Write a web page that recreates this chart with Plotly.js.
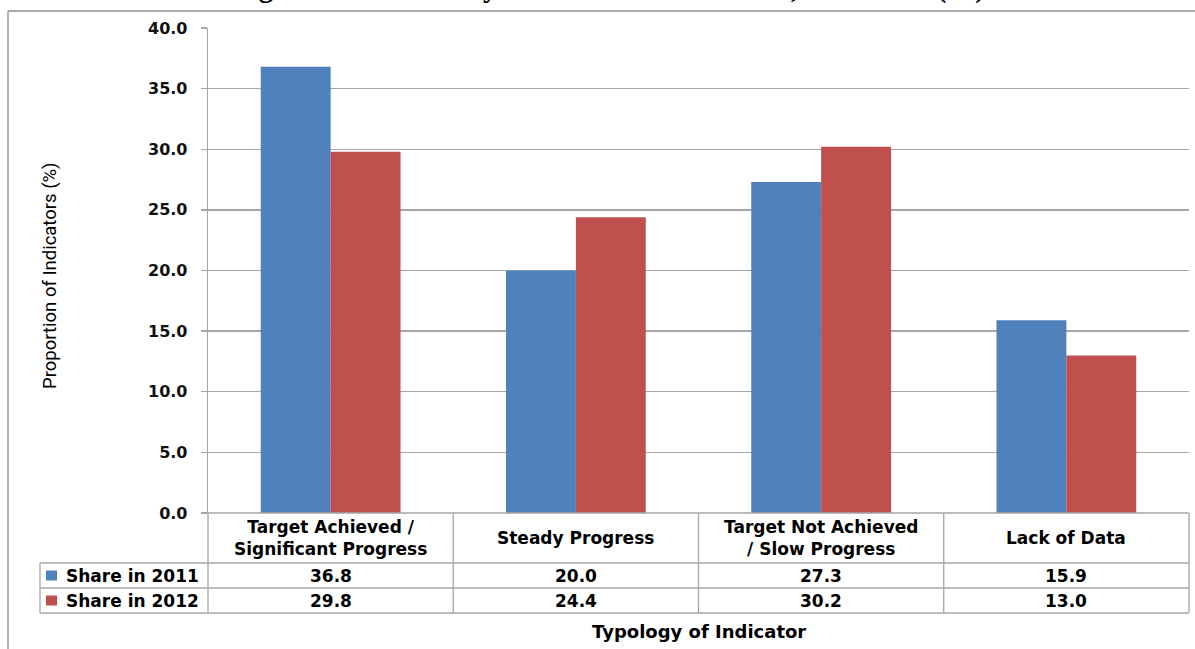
<!DOCTYPE html>
<html>
<head>
<meta charset="utf-8">
<script src="https://cdn.plot.ly/plotly-3.0.1.min.js"></script>
<style>
  html, body { margin: 0; padding: 0; background: #ffffff; }
  #chart { width: 1195px; height: 649px; }
</style>
</head>
<body>
<div id="chart"></div>
<script>
// Indicator typology and the share of indicators in each group (%)
const categories = [
  'Target Achieved /<br>Significant Progress',
  'Steady Progress',
  'Target Not Achieved<br>/ Slow Progress',
  'Lack of Data'
];
const seriesNames = ['Share in 2011', 'Share in 2012'];
const share2011 = [36.8, 20.0, 27.3, 15.9];
const share2012 = [29.8, 24.4, 30.2, 13.0];
const seriesColors = ['#4F81BD', '#C0504D'];

const chartTitle = 'Figure 4.1: Summary of Indicator Movement, 2011-2012 (%)';
const yTitle = 'Proportion of Indicators (%)';
const xTitle = 'Typology of Indicator';

// Plot area geometry in pixels (used to convert table rows to paper units)
const W = 1195, H = 649;
const M = { l: 208, r: 6, t: 28, b: 136 };
const PW = W - M.l - M.r, PH = H - M.t - M.b;
const px = x => (x - M.l) / PW;          // page x -> paper x
const py = y => (H - M.b - y) / PH;      // page y -> paper y

const gridGray = '#A6A6A6';
const tableFont = 'DejaVu Sans, Verdana, sans-serif';

const xIdx = categories.map((_, i) => i);

const traces = [share2011, share2012].map((vals, k) => ({
  type: 'bar',
  name: seriesNames[k],
  x: xIdx,
  y: vals,
  marker: { color: seriesColors[k], line: { width: 0 } },
  hoverinfo: 'skip'
}));

// Data table under the plot: header row with categories, one row per series
const rowTop = py(H - M.b);         // 0
const rowHeadBottom = py(563);
const row1Bottom = py(588);
const row2Bottom = py(613);
const legendLeft = px(40);

const shapes = [];
const lineStyle = { color: gridGray, width: 1.3 };
// horizontal table lines
shapes.push({ type: 'line', xref: 'paper', yref: 'paper', x0: 0, x1: 1, y0: rowTop, y1: rowTop, line: lineStyle });
[rowHeadBottom, row1Bottom, row2Bottom].forEach(y => {
  shapes.push({ type: 'line', xref: 'paper', yref: 'paper', x0: legendLeft, x1: 1, y0: y, y1: y, line: lineStyle });
});
// vertical table lines between categories
for (let i = 0; i <= categories.length; i++) {
  const x = i / categories.length;
  shapes.push({ type: 'line', xref: 'paper', yref: 'paper', x0: x, x1: x, y0: rowTop, y1: row2Bottom, line: lineStyle });
}
shapes.push({ type: 'line', xref: 'paper', yref: 'paper', x0: legendLeft, x1: legendLeft, y0: rowHeadBottom, y1: row2Bottom, line: lineStyle });

// outer frame of the figure
const frameLeft = px(8), frameTop = py(11);
shapes.push({ type: 'line', xref: 'paper', yref: 'paper', x0: frameLeft, x1: frameLeft, y0: frameTop, y1: py(H + 2), line: { color: '#8C8C8C', width: 1.3 } });
shapes.push({ type: 'line', xref: 'paper', yref: 'paper', x0: frameLeft, x1: px(W + 2), y0: frameTop, y1: frameTop, line: { color: '#8C8C8C', width: 1.3 } });

const annotations = [];
// category headers
categories.forEach((c, i) => {
  annotations.push({
    xref: 'x', yref: 'paper', x: i, y: (rowTop + rowHeadBottom) / 2,
    text: c, showarrow: false, xanchor: 'center', yanchor: 'middle',
    font: { family: tableFont, size: 17, color: '#000000', weight: 'bold' },
    align: 'center'
  });
});
// series rows: legend key, name and values
[share2011, share2012].forEach((vals, k) => {
  const yTop = k === 0 ? rowHeadBottom : row1Bottom;
  const yBot = k === 0 ? row1Bottom : row2Bottom;
  const yMid = (yTop + yBot) / 2;
  shapes.push({
    type: 'rect', xref: 'paper', yref: 'paper',
    x0: px(46), x1: px(57), y0: yMid - 5 / PH, y1: yMid + 5 / PH,
    fillcolor: seriesColors[k], line: { width: 0 }
  });
  annotations.push({
    xref: 'paper', yref: 'paper', x: px(64), y: yMid,
    text: seriesNames[k], showarrow: false, xanchor: 'left', yanchor: 'middle',
    font: { family: tableFont, size: 17, color: '#000000', weight: 'bold' }
  });
  vals.forEach((v, i) => {
    annotations.push({
      xref: 'x', yref: 'paper', x: i, y: yMid,
      text: v.toFixed(1), showarrow: false, xanchor: 'center', yanchor: 'middle',
      font: { family: tableFont, size: 17, color: '#000000', weight: 'bold' }
    });
  });
});
// axis titles
annotations.push({
  xref: 'paper', yref: 'paper', x: 0.5, y: py(631),
  text: xTitle, showarrow: false, xanchor: 'center', yanchor: 'middle',
  font: { family: tableFont, size: 18, color: '#000000', weight: 'bold' }
});
annotations.push({
  xref: 'paper', yref: 'paper', x: px(50), y: py(276),
  text: yTitle, showarrow: false, textangle: -90, xanchor: 'center', yanchor: 'middle',
  font: { family: 'Liberation Sans Narrow, Roboto, sans-serif', size: 18.5, color: '#000000' }
});
// figure caption above the frame (runs off the top edge)
annotations.push({
  xref: 'paper', yref: 'paper', x: px(609), y: py(6),
  text: chartTitle, showarrow: false, xanchor: 'center', yanchor: 'bottom',
  font: { family: 'Liberation Serif, serif', size: 29, color: '#000000', weight: 'bold' }
});

const layout = {
  width: W, height: H,
  margin: M,
  paper_bgcolor: '#ffffff',
  plot_bgcolor: '#ffffff',
  showlegend: false,
  barmode: 'group',
  bargap: 0.43,
  bargroupgap: 0,
  xaxis: {
    type: 'linear',
    range: [-0.5, categories.length - 0.5],
    showticklabels: false, showgrid: false, zeroline: false,
    showline: false, ticks: ''
  },
  yaxis: {
    range: [0, 40], dtick: 5, tick0: 0, tickformat: '.1f',
    showgrid: true, gridcolor: gridGray, gridwidth: 1.3,
    zeroline: false,
    showline: true, linecolor: gridGray, linewidth: 1.3,
    ticks: 'outside', ticklen: 6, tickcolor: gridGray, tickwidth: 1.3,
    ticklabelstandoff: 10,
    tickfont: { family: 'DejaVu Sans, Verdana, sans-serif', size: 16, color: '#111111', weight: 'bold' }
  },
  shapes: shapes,
  annotations: annotations
};

Plotly.newPlot('chart', traces, layout, { staticPlot: true, displayModeBar: false });
</script>
</body>
</html>
